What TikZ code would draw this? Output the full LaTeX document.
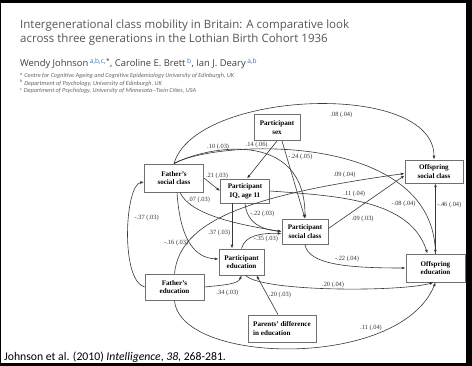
\documentclass[tikz,border=0pt]{standalone}
\usepackage{fontspec}
\setmainfont{Liberation Serif}
\newfontfamily\slidefont{Carlito}
\newfontfamily\headfont{Open Sans}
\usetikzlibrary{arrows.meta}
\definecolor{titlegray}{HTML}{555555}
\definecolor{authblue}{HTML}{3F6FB0}
\definecolor{boxgray}{HTML}{707070}
\definecolor{linegray}{HTML}{383838}

\begin{document}
\begin{tikzpicture}[x=1pt, y=-1pt,
    box/.style={draw=boxgray, line width=0.9pt, inner sep=0pt, align=center, font=\fontsize{7.1}{8.8}\selectfont\bfseries},
    lbl/.style={inner sep=0.5pt, font=\fontsize{6.4}{7}\selectfont, text=black!80},
    arr/.style={-{Latex[length=3.8pt,width=2.8pt]}, draw=linegray, line width=0.6pt},
    head/.style={anchor=base west, inner sep=0pt}
]
% slide frame
\useasboundingbox (0,0) rectangle (472,366);
\fill[black] (0,0) rectangle (472,366);
\fill[white] (1,3) rectangle (466,363);

% title and authors
\node[head, font=\headfont\fontsize{11.5}{13}\selectfont, text=titlegray] (title1) at (20,29) {Intergenerational class mobility in Britain: A comparative look};
\node[head, font=\headfont\fontsize{11.5}{13}\selectfont, text=titlegray] (title2) at (20,42.5) {across three generations in the Lothian Birth Cohort 1936};
\node[head, font=\headfont\fontsize{9.4}{10}\selectfont, text=black!75] (authors) at (20,67) {Wendy Johnson\,\textcolor{authblue}{\textsuperscript{a,b,c,}}\textsuperscript{*}, Caroline E. Brett\,\textcolor{authblue}{\textsuperscript{b}}, Ian J. Deary\,\textcolor{authblue}{\textsuperscript{a,b}}};
\node[head, font=\slidefont\itshape\fontsize{6.2}{6.5}\selectfont, text=black!60] (affa) at (20,78) {\textsuperscript{a} Centre for Cognitive Ageing and Cognitive Epidemiology University of Edinburgh, UK};
\node[head, font=\slidefont\itshape\fontsize{6.2}{6.5}\selectfont, text=black!60] (affb) at (20,85.5) {\textsuperscript{b} Department of Psychology, University of Edinburgh, UK};
\node[head, font=\slidefont\itshape\fontsize{6.2}{6.5}\selectfont, text=black!60] (affc) at (20,93) {\textsuperscript{c} Department of Psychology, University of Minnesota--Twin Cities, USA};
\node[head, font=\slidefont\fontsize{11.7}{12}\selectfont] (cite) at (4,361) {Johnson et al. (2010) \textit{Intelligence}, \textit{38}, 268-281.};

% variables
\node[box, minimum width=46pt, minimum height=26pt] (sex) at (277,127.5) {Participant\\sex};
\node[box, minimum width=59pt, minimum height=28pt] (fsc) at (174,178) {Father's\\social class};
\node[box, minimum width=49pt, minimum height=24pt] (piq) at (245,191) {Participant\\IQ, age 11};
\node[box, minimum width=46pt, minimum height=25pt] (psc) at (305,231.5) {Participant\\social class};
\node[box, minimum width=45pt, minimum height=26pt] (pe) at (241.5,262) {Participant\\education};
\node[box, minimum width=59pt, minimum height=26pt] (fe) at (174.5,287) {Father's\\education};
\node[box, minimum width=68pt, minimum height=27pt, align=left] (pdiff) at (282,328.5) {Parents' difference\\in education};
\node[box, minimum width=58pt, minimum height=23pt] (osc) at (434,171.5) {Offspring\\social class};
\node[box, minimum width=59pt, minimum height=28pt] (oe) at (435.5,268) {Offspring\\education};

% paths
\draw[arr] (fsc.north) .. controls (195,90) and (434,80) .. node[lbl, pos=.58, below=6pt] {.08 (.04)} (osc.north);
\draw[arr] (fsc.north) .. controls (215,140) and (430,130) .. node[lbl, pos=.84, left=2pt] {-.08 (.04)} (oe.north);
\draw[arr] (fsc.north) .. controls (210,145) and (305,130) .. node[lbl, pos=.3, above] {.10 (.03)} (psc.north);
\draw[arr] (sex.south) -- node[lbl, pos=.12, left=5pt] {.14 (.06)} ([xshift=2pt]piq.north);
\draw[arr] ([xshift=5pt]sex.south) -- node[lbl, pos=.2, right=1pt] {-.24 (.05)} (psc.north);
\draw[arr] (fsc.east) -- node[lbl, pos=.5, above=5pt, xshift=5pt] {.21 (.03)} (piq.west);
\draw[arr] ([xshift=6pt]fsc.south) .. controls (190,215) and (240,225) .. node[lbl, pos=.12, right=2pt] {.07 (.03)} (psc.west);
\draw[arr] ([xshift=3pt]fsc.south) .. controls (180,240) and (195,258) .. node[lbl, pos=.5, left=1pt] {-.16 (.03)} ([yshift=3pt]pe.west);
\draw[arr] (fe.north) .. controls (180,220) and (250,195) .. node[lbl, pos=.86, above=4pt] {.09 (.04)} ([yshift=-2pt]osc.west);
\draw[arr] ([xshift=-13pt]piq.south) -- node[lbl, pos=.65, left=1pt] {.37 (.03)} ([xshift=-13pt]piq.south |- pe.north);
\draw[arr] (piq.south) .. controls (247,225) and (265,230) .. node[lbl, pos=.18, right=2pt] {-.22 (.03)} (psc.west);
\draw[arr] (pe.north) .. controls (245,235) and (262,233) .. node[lbl, pos=.72, below=1pt] {-.35 (.03)} ([yshift=-2pt]psc.west);
\draw[arr] (piq.east) .. controls (340,196) and (410,200) .. node[lbl, pos=.42, above=3pt] {.11 (.04)} ([xshift=-8pt]oe.north);
\draw[arr] ([yshift=3pt]psc.east) -- node[lbl, pos=.45, below=11pt] {.09 (.03)} ([yshift=-4pt]osc.west);
\draw[arr] (psc.south) .. controls (308,265) and (350,268) .. node[lbl, pos=.6, above=3pt] {-.22 (.04)} (oe.west);
\draw[arr] ([xshift=4pt]pe.south) .. controls (262,292) and (400,292) .. node[lbl, pos=.5, above=0pt] {.20 (.04)} ([xshift=-2pt]oe.south);
\draw[arr] ([xshift=-4pt]pdiff.north) -- node[lbl, pos=.5, right=1pt] {.20 (.03)} ([xshift=15pt]pe.south);
\draw[arr] (fe.east) .. controls (225,285) and (238,284) .. node[lbl, pos=.45, below=5pt] {.34 (.03)} (pe.south);
\draw[arr] (fe.west) .. controls (120,280) and (125,185) .. node[lbl, pos=.6, right=5pt] {-.37 (.03)} ([yshift=-4pt]fsc.west);
\draw[arr] (fe.south) .. controls (180,365) and (400,370) .. node[lbl, pos=.72, above=3pt] {.11 (.04)} (oe.south);
\draw[arr] (oe.north) -- node[lbl, pos=.7, right=1pt] {-.46 (.04)} (oe.north |- osc.south);
\end{tikzpicture}
\end{document}
